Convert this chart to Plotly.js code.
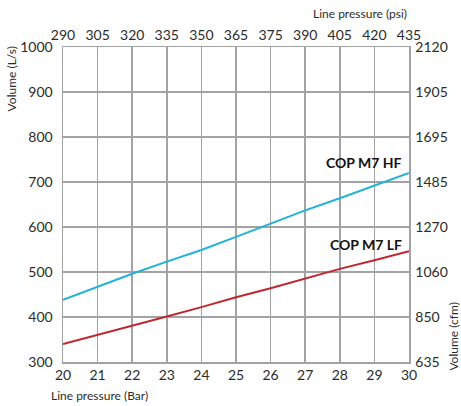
<!DOCTYPE html>
<html>
<head>
<meta charset="utf-8">
<script src="https://cdn.plot.ly/plotly-3.0.1.min.js"></script>
<style>html,body{margin:0;padding:0;background:#fff;}#chart{width:461px;height:406px;}</style>
</head>
<body>
<div id="chart"></div>
<script>
const pressureBar = [20, 21, 22, 23, 24, 25, 26, 27, 28, 29, 30];
const pressurePsiLabels = ["290", "305", "320", "335", "350", "365", "375", "390", "405", "420", "435"];
const volumeHF = [438, 467, 496, 523, 549, 578, 607, 637, 664, 692, 720];
const volumeLF = [340, 360, 381, 401, 422, 444, 464, 486, 507, 526, 546];
const volumeTicks = [300, 400, 500, 600, 700, 800, 900, 1000];
const cfmLabels = ["635", "850", "1060", "1270", "1485", "1695", "1905", "2120"];
const seriesNames = ["COP M7 HF", "COP M7 LF"];

const FONT = "Lato, 'Open Sans', sans-serif";
const TXT = "#2b2b2b";
const GRID = "#a3a3a3";

const traces = [
  {x: pressureBar, y: volumeHF, type: "scatter", mode: "lines", name: seriesNames[0],
   line: {color: "#22b2d6", width: 2}, hoverinfo: "skip"},
  {x: pressureBar, y: volumeLF, type: "scatter", mode: "lines", name: seriesNames[1],
   line: {color: "#c0272d", width: 2}, hoverinfo: "skip"},
  {x: pressureBar, y: volumeHF, xaxis: "x2", yaxis: "y2", type: "scatter", mode: "lines",
   line: {width: 0}, opacity: 0, showlegend: false, hoverinfo: "skip"}
];

const layout = {
  width: 461, height: 406,
  margin: {l: 63, r: 52, t: 47, b: 44, pad: 0},
  paper_bgcolor: "#fff", plot_bgcolor: "#fff",
  showlegend: false,
  font: {family: FONT, size: 14, color: TXT},
  xaxis: {
    range: [20, 30], tickvals: pressureBar, ticktext: pressureBar.map(String),
    showgrid: true, gridcolor: GRID, gridwidth: 1.5,
    showline: true, linecolor: GRID, linewidth: 1.5,
    ticks: "", zeroline: false, fixedrange: true,
    tickfont: {family: FONT, size: 14, color: TXT}
  },
  xaxis2: {
    overlaying: "x", side: "top", anchor: "y",
    range: [20, 30], tickvals: pressureBar, ticktext: pressurePsiLabels,
    showgrid: false, showline: true, linecolor: GRID, linewidth: 1.5,
    ticks: "", zeroline: false, fixedrange: true,
    tickfont: {family: FONT, size: 14, color: TXT}
  },
  yaxis: {
    range: [300, 1000], tickvals: volumeTicks, ticktext: volumeTicks.map(String),
    showgrid: true, gridcolor: GRID, gridwidth: 1.5,
    showline: true, linecolor: GRID, linewidth: 1.5,
    ticks: "", zeroline: false, fixedrange: true, ticklabelstandoff: 6,
    tickfont: {family: FONT, size: 14, color: TXT}
  },
  yaxis2: {
    overlaying: "y", side: "right", anchor: "x",
    range: [300, 1000], tickvals: volumeTicks, ticktext: cfmLabels,
    showgrid: false, showline: true, linecolor: GRID, linewidth: 1.5,
    ticks: "", zeroline: false, fixedrange: true, ticklabelstandoff: 2,
    tickfont: {family: FONT, size: 14, color: TXT}
  },
  annotations: [
    {text: "<b>" + seriesNames[0] + "</b>", xref: "x", yref: "y", x: 29.85, y: 743,
     xanchor: "right", yanchor: "middle", showarrow: false, font: {family: FONT, size: 14, color: "#111"}},
    {text: "<b>" + seriesNames[1] + "</b>", xref: "x", yref: "y", x: 29.85, y: 562,
     xanchor: "right", yanchor: "middle", showarrow: false, font: {family: FONT, size: 14, color: "#111"}},
    {text: "Line pressure (psi)", xref: "paper", yref: "paper", x: 1.0, y: 1.105,
     xanchor: "right", yanchor: "middle", showarrow: false, font: {family: FONT, size: 12, color: TXT}},
    {text: "Line pressure (Bar)", xref: "paper", yref: "paper", x: -0.04, y: -0.105,
     xanchor: "left", yanchor: "middle", showarrow: false, font: {family: FONT, size: 12, color: TXT}},
    {text: "Volume (L/s)", xref: "paper", yref: "paper", x: -0.150, y: 1.007, textangle: -90,
     xanchor: "center", yanchor: "top", showarrow: false, font: {family: FONT, size: 12, color: TXT}},
    {text: "Volume (cfm)", xref: "paper", yref: "paper", x: 1.126, y: -0.035, textangle: -90,
     xanchor: "center", yanchor: "bottom", showarrow: false, font: {family: FONT, size: 12, color: TXT}}
  ]
};

Plotly.newPlot("chart", traces, layout, {displayModeBar: false, staticPlot: true});
</script>
</body>
</html>
